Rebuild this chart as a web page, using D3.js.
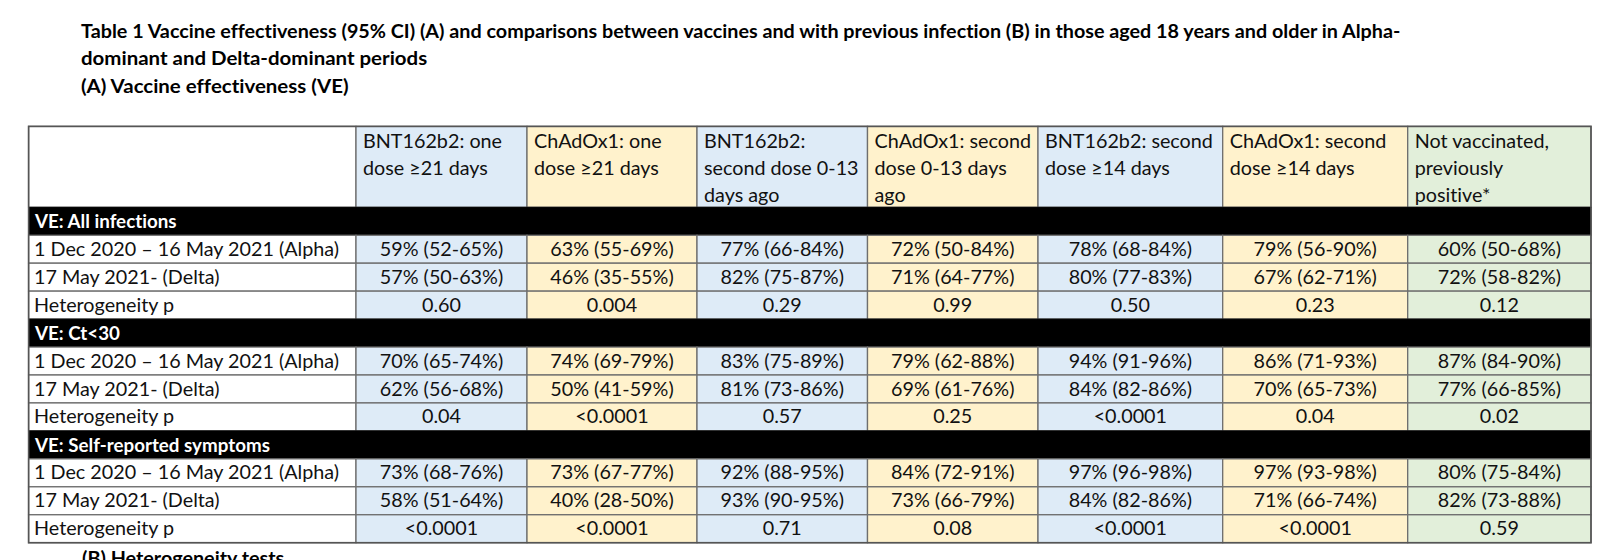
<!DOCTYPE html>
<html><head><meta charset="utf-8">
<script src="https://cdn.jsdelivr.net/npm/d3@7"></script>
<style>body{margin:0;background:#fff;} svg{display:block;} text{font-variant-ligatures:none;font-feature-settings:"liga" 0,"clig" 0,"dlig" 0;}</style>
</head><body>
<script>
// ---------- data ----------
const titleLines = [
  "Table 1 Vaccine effectiveness (95% CI) (A) and comparisons between vaccines and with previous infection (B) in those aged 18 years and older in Alpha-",
  "dominant and Delta-dominant periods",
  "(A) Vaccine effectiveness (VE)"
];
const subHeading = "(B) Heterogeneity tests";
const columnHeaders = [
  ["BNT162b2: one", "dose \u226521 days"],
  ["ChAdOx1: one", "dose \u226521 days"],
  ["BNT162b2:", "second dose 0-13", "days ago"],
  ["ChAdOx1: second", "dose 0-13 days", "ago"],
  ["BNT162b2: second", "dose \u226514 days"],
  ["ChAdOx1: second", "dose \u226514 days"],
  ["Not vaccinated,", "previously", "positive*"]
];
const columnGroups = ["BNT162b2", "ChAdOx1", "BNT162b2", "ChAdOx1", "BNT162b2", "ChAdOx1", "Previous infection"];
const sections = ["VE: All infections", "VE: Ct<30", "VE: Self-reported symptoms"];
const rowLabels = ["1 Dec 2020 \u2013 16 May 2021 (Alpha)", "17 May 2021- (Delta)", "Heterogeneity p"];

// [VE, lower, upper] per column
const allInfAlpha = [[59,52,65],[63,55,69],[77,66,84],[72,50,84],[78,68,84],[79,56,90],[60,50,68]];
const allInfDelta = [[57,50,63],[46,35,55],[82,75,87],[71,64,77],[80,77,83],[67,62,71],[72,58,82]];
const allInfP     = ["0.60","0.004","0.29","0.99","0.50","0.23","0.12"];
const ctAlpha     = [[70,65,74],[74,69,79],[83,75,89],[79,62,88],[94,91,96],[86,71,93],[87,84,90]];
const ctDelta     = [[62,56,68],[50,41,59],[81,73,86],[69,61,76],[84,82,86],[70,65,73],[77,66,85]];
const ctP         = ["0.04","<0.0001","0.57","0.25","<0.0001","0.04","0.02"];
const sympAlpha   = [[73,68,76],[73,67,77],[92,88,95],[84,72,91],[97,96,98],[97,93,98],[80,75,84]];
const sympDelta   = [[58,51,64],[40,28,50],[93,90,95],[73,66,79],[84,82,86],[71,66,74],[82,73,88]];
const sympP       = ["<0.0001","<0.0001","0.71","0.08","<0.0001","<0.0001","0.59"];

const sectionData = [
  [allInfAlpha, allInfDelta, allInfP],
  [ctAlpha, ctDelta, ctP],
  [sympAlpha, sympDelta, sympP]
];

// ---------- layout ----------
const W = 1600, H = 560;
const FONT = "Lato, 'Open Sans', sans-serif";
const FS = 19.3;
const svg = d3.select("body").append("svg").attr("width", W).attr("height", H)
  .style("font-family", FONT);

const fmtVE = d => `${d[0]}% (${d[1]}-${d[2]}%)`;

// column edges (index 0 = label column)
const xEdge = d3.scaleLinear()
  .domain(d3.range(9))
  .range([28.6, 356, 527, 697, 867.5, 1038, 1222.7, 1407.7, 1591]);
// row edges (index 0 = header, rows 1..12 body)
const yEdge = d3.scaleLinear().domain([0, 1, 13]).range([126.4, 207.3, 542.7]);
const fill = d3.scaleOrdinal()
  .domain(["BNT162b2", "ChAdOx1", "Previous infection"])
  .range(["#DEEBF7", "#FFF2CC", "#E2EFDA"]);

// build body rows
const bodyRows = [];
sections.forEach((s, si) => {
  bodyRows.push({ type: "section", label: s });
  rowLabels.forEach((lab, ri) => {
    const vals = sectionData[si][ri];
    bodyRows.push({ type: "data", label: lab,
      cells: vals.map(v => Array.isArray(v) ? fmtVE(v) : v) });
  });
});

const LINE = "#6e6e6e";
// text fitting (Calibri-like widths)
let K = 1;
{
  const t = svg.append("text").attr("font-size", FS).text(rowLabels[0]);
  K = 305 / t.node().getComputedTextLength();
  t.remove();
}
function fit(sel, f = 1) {
  sel.each(function () {
    const w = this.getComputedTextLength();
    d3.select(this).attr("textLength", w * K * f).attr("lengthAdjust", "spacingAndGlyphs");
  });
}
const titleFactor = [1.0, 1.035, 1.035];

// title
svg.append("g").selectAll("text").data(titleLines).join("text")
  .attr("x", 81).attr("y", (d, i) => 38 + i * 27.4)
  .attr("font-size", FS).attr("font-weight", "bold").attr("fill", "#000")
  .text(d => d)
  .each(function (d, i) { fit(d3.select(this), titleFactor[i]); });

// header row
const hdr = svg.append("g");
hdr.append("rect").attr("x", xEdge(0)).attr("y", yEdge(0))
  .attr("width", xEdge(1) - xEdge(0)).attr("height", yEdge(1) - yEdge(0))
  .attr("fill", "#fff").attr("stroke", LINE).attr("stroke-width", 1.3);
const hc = hdr.selectAll("g.hc").data(columnHeaders).join("g").attr("class", "hc");
hc.append("rect")
  .attr("x", (d, i) => xEdge(i + 1)).attr("y", yEdge(0))
  .attr("width", (d, i) => xEdge(i + 2) - xEdge(i + 1)).attr("height", yEdge(1) - yEdge(0))
  .attr("fill", (d, i) => fill(columnGroups[i])).attr("stroke", LINE).attr("stroke-width", 1.3);
hc.each(function (lines, i) {
  d3.select(this).selectAll("text").data(lines).join("text")
    .attr("x", xEdge(i + 1) + 7).attr("y", (d, j) => yEdge(0) + 21.2 + j * 27)
    .attr("font-size", FS).attr("fill", "#111").text(d => d).call(fit);
});

// body rows
const body = svg.append("g");
bodyRows.forEach((row, k) => {
  const y0 = yEdge(k + 1), y1 = yEdge(k + 2);
  const g = body.append("g");
  if (row.type === "section") {
    g.append("rect").attr("x", xEdge(0)).attr("y", y0)
      .attr("width", xEdge(8) - xEdge(0)).attr("height", y1 - y0)
      .attr("fill", "#000").attr("stroke", "#000").attr("stroke-width", 1);
    g.append("text").attr("x", 35).attr("y", y0 + 21)
      .attr("font-size", FS).attr("font-weight", "bold").attr("fill", "#fff")
      .text(row.label).call(fit, 0.95);
  } else {
    g.append("rect").attr("x", xEdge(0)).attr("y", y0)
      .attr("width", xEdge(1) - xEdge(0)).attr("height", y1 - y0)
      .attr("fill", "#fff").attr("stroke", LINE).attr("stroke-width", 1.3);
    g.append("text").attr("x", 34).attr("y", y0 + 20.5)
      .attr("font-size", FS).attr("fill", "#111").text(row.label).call(fit);
    g.selectAll("rect.c").data(row.cells).join("rect").attr("class", "c")
      .attr("x", (d, i) => xEdge(i + 1)).attr("y", y0)
      .attr("width", (d, i) => xEdge(i + 2) - xEdge(i + 1)).attr("height", y1 - y0)
      .attr("fill", (d, i) => fill(columnGroups[i])).attr("stroke", LINE).attr("stroke-width", 1.3);
    g.selectAll("text.c").data(row.cells).join("text").attr("class", "c")
      .attr("x", (d, i) => (xEdge(i + 1) + xEdge(i + 2)) / 2).attr("y", y0 + 20.5)
      .attr("text-anchor", "middle").attr("font-size", FS).attr("fill", "#111")
      .text(d => d).call(fit);
  }
});

// outer border
svg.append("rect").attr("x", xEdge(0)).attr("y", yEdge(0))
  .attr("width", xEdge(8) - xEdge(0)).attr("height", yEdge(13) - yEdge(0))
  .attr("fill", "none").attr("stroke", "#555").attr("stroke-width", 1.6);

// sub heading (partially cut off at bottom, as in the source page)
svg.append("text").attr("x", 82).attr("y", 565)
  .attr("font-size", FS).attr("font-weight", "bold").attr("fill", "#000")
  .text(subHeading).call(fit);
</script>
</body></html>
